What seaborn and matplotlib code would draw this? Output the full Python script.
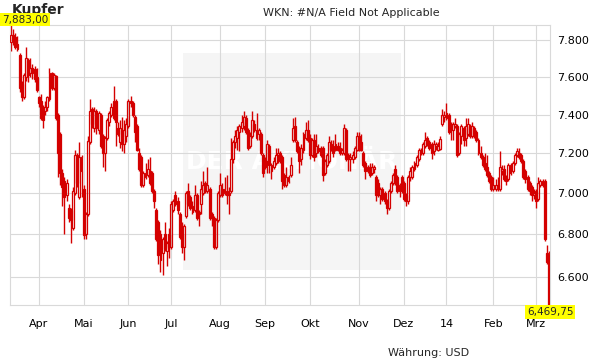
import numpy as np
import pandas as pd
import matplotlib
matplotlib.use("Agg")
import matplotlib.pyplot as plt
import seaborn as sns
from matplotlib.patches import Rectangle
from matplotlib.ticker import FixedLocator, FuncFormatter, NullLocator

# ---------------- data ----------------
title = "Kupfer"
subtitle = "WKN: #N/A Field Not Applicable"
currency = "Währung: USD"
month_counts = [13, 21, 21, 20, 23, 21, 21, 23, 21, 20, 22, 20, 7]   # trading days per month, Mar 2013 .. Mar 2014
month_labels = ["Apr", "Mai", "Jun", "Jul", "Aug", "Sep", "Okt", "Nov", "Dez", "14", "Feb", "Mrz"]
y_ticks = [6600, 6800, 7000, 7200, 7400, 7600, 7800]

opens = [
    7790, 7825, 7815, 7780, 7720, 7560, 7490, 7600, 7690, 7620, 7650, 7640, 7600,
    7490, 7470, 7440, 7420, 7440, 7480, 7620, 7540, 7605, 7400, 7300, 7100, 7060, 6990, 6930, 6920, 6830, 7000, 7190, 6980, 7180,
    7020, 6800, 6900, 7260, 7430, 7330, 7420, 7320, 7400, 7290, 7200, 7280, 7360, 7400, 7380, 7470, 7330, 7260, 7320, 7250, 7290,
    7340, 7470, 7460, 7390, 7340, 7200, 7180, 7040, 7080, 7090, 7110, 7100, 7010, 6920, 6860, 6800, 6710, 6800, 6720, 6800,
    6740, 6920, 6990, 6960, 6900, 6800, 6740, 6890, 7010, 6980, 6940, 6920, 6990, 6910, 6950, 7000, 7050, 7010, 7020, 6900, 6880, 6740, 6870,
    6990, 7020, 7000, 7010, 7000, 7010, 7170, 7260, 7280, 7310, 7330, 7340, 7380, 7320, 7240, 7290, 7350, 7320, 7300, 7300, 7190,
    7170, 7160, 7240, 7140, 7130, 7150, 7190, 7200, 7180, 7090, 7040, 7080, 7090, 7270, 7340, 7260, 7230, 7170, 7220, 7280, 7320,
    7280, 7190, 7270, 7200, 7230, 7230, 7230, 7100, 7140, 7160, 7250, 7240, 7220, 7240, 7230, 7200, 7200, 7320, 7190, 7170, 7170, 7180, 7220,
    7290, 7260, 7200, 7150, 7110, 7130, 7100, 7120, 7080, 7050, 6990, 7020, 7000, 6960, 6930, 7010, 7050, 7120, 7080, 7010, 7080,
    7050, 6990, 6960, 7080, 7080, 7120, 7140, 7170, 7220, 7200, 7240, 7280, 7260, 7250, 7210, 7240, 7220, 7225, 7350, 7390,
    7410, 7400, 7350, 7320, 7340, 7340, 7200, 7290, 7330, 7280, 7300, 7340, 7290, 7330, 7310, 7270, 7200, 7180, 7150, 7130, 7100, 7080,
    7020, 7020, 7040, 7020, 7110, 7120, 7080, 7070, 7140, 7110, 7150, 7190, 7200, 7190, 7160, 7110, 7080, 7050, 7030, 6990,
    7010, 6970, 7040, 7060, 7060, 6710, 6700,
]
highs = [
    7883, 7860, 7840, 7820, 7730, 7580, 7620, 7760, 7700, 7700, 7670, 7660, 7650,
    7500, 7510, 7450, 7470, 7500, 7650, 7625, 7620, 7610, 7410, 7310, 7120, 7080, 7070, 6950, 6930, 7030, 7220, 7200, 7260, 7190,
    7040, 6910, 7290, 7480, 7440, 7440, 7430, 7420, 7410, 7300, 7290, 7380, 7420, 7460, 7550, 7480, 7360, 7370, 7390, 7370, 7380,
    7480, 7500, 7470, 7400, 7350, 7230, 7190, 7110, 7150, 7170, 7180, 7110, 7020, 6930, 6870, 6820, 6790, 6860, 6770, 6830,
    6960, 6970, 7010, 6980, 6910, 6860, 6850, 7010, 7050, 6990, 6960, 7040, 7000, 6920, 7060, 7110, 7060, 7130, 7030, 6910, 6890, 6880, 7010,
    7100, 7050, 7080, 7090, 7030, 7280, 7270, 7320, 7340, 7350, 7400, 7420, 7400, 7330, 7310, 7420, 7370, 7410, 7330, 7310, 7200,
    7180, 7270, 7250, 7150, 7180, 7230, 7230, 7210, 7190, 7100, 7130, 7090, 7180, 7380, 7390, 7270, 7240, 7250, 7310, 7360, 7370,
    7300, 7280, 7300, 7300, 7250, 7240, 7240, 7170, 7200, 7290, 7270, 7270, 7300, 7260, 7260, 7230, 7350, 7330, 7200, 7200, 7210, 7240, 7310,
    7310, 7300, 7210, 7160, 7140, 7150, 7150, 7140, 7090, 7070, 7030, 7030, 7010, 6970, 7020, 7060, 7100, 7140, 7090, 7050, 7090,
    7060, 7000, 7090, 7130, 7140, 7160, 7190, 7230, 7230, 7260, 7310, 7290, 7270, 7260, 7270, 7260, 7260, 7290, 7430, 7420,
    7460, 7410, 7360, 7360, 7380, 7350, 7310, 7350, 7340, 7380, 7380, 7350, 7360, 7340, 7320, 7280, 7240, 7190, 7200, 7190, 7110, 7090,
    7080, 7070, 7080, 7210, 7140, 7140, 7090, 7150, 7150, 7160, 7200, 7230, 7230, 7200, 7170, 7120, 7090, 7060, 7040, 7020,
    7020, 7080, 7070, 7070, 7070, 6750, 6720,
]
lows = [
    7740, 7770, 7750, 7740, 7520, 7470, 7480, 7580, 7570, 7600, 7590, 7570, 7520,
    7440, 7370, 7330, 7400, 7420, 7470, 7530, 7530, 7370, 7080, 7040, 6940, 6800, 6960, 6860, 6760, 6820, 6990, 7030, 6970, 6980,
    6780, 6780, 6890, 7250, 7330, 7310, 7300, 7300, 7230, 7130, 7110, 7270, 7340, 7390, 7370, 7240, 7290, 7230, 7210, 7200, 7260,
    7330, 7440, 7390, 7260, 7210, 7110, 7030, 7030, 7070, 7080, 7040, 7000, 6930, 6770, 6660, 6620, 6610, 6720, 6650, 6690,
    6730, 6910, 6940, 6900, 6780, 6710, 6680, 6880, 6940, 6920, 6900, 6910, 6870, 6840, 6900, 6990, 7000, 7000, 6870, 6840, 6730, 6730, 6860,
    6980, 6980, 6990, 6950, 6900, 7000, 7150, 7230, 7220, 7210, 7310, 7320, 7300, 7220, 7230, 7280, 7310, 7270, 7270, 7190, 7080,
    7120, 7100, 7100, 7070, 7120, 7140, 7150, 7150, 7020, 7030, 7030, 7050, 7080, 7260, 7260, 7200, 7100, 7140, 7200, 7270, 7260,
    7170, 7180, 7160, 7180, 7200, 7180, 7060, 7090, 7130, 7150, 7210, 7180, 7210, 7210, 7190, 7190, 7190, 7160, 7110, 7110, 7150, 7170, 7210,
    7210, 7210, 7130, 7070, 7100, 7080, 7090, 7100, 6960, 6980, 6950, 6960, 6950, 6900, 6920, 7000, 7040, 7040, 7000, 6980, 7000,
    6960, 6940, 6950, 7060, 7070, 7110, 7130, 7160, 7190, 7190, 7230, 7240, 7220, 7170, 7190, 7220, 7210, 7215, 7340, 7360,
    7370, 7300, 7270, 7270, 7330, 7180, 7190, 7250, 7240, 7240, 7290, 7280, 7280, 7280, 7260, 7190, 7170, 7130, 7110, 7080, 7050, 7010,
    7010, 7010, 7010, 7010, 7090, 7060, 7040, 7060, 7090, 7100, 7140, 7180, 7170, 7150, 7070, 7050, 7010, 6990, 6960, 6970,
    6930, 6960, 7030, 7030, 6770, 6660, 6469.75,
]
closes = [
    7825, 7795, 7760, 7750, 7540, 7490, 7610, 7700, 7610, 7650, 7620, 7590, 7530,
    7460, 7380, 7370, 7440, 7490, 7620, 7540, 7610, 7380, 7200, 7100, 7030, 6980, 7050, 6880, 6870, 7010, 7190, 7050, 7180, 7110,
    6795, 6900, 7265, 7420, 7350, 7420, 7330, 7410, 7240, 7200, 7280, 7370, 7410, 7440, 7470, 7360, 7300, 7330, 7250, 7320, 7350,
    7470, 7460, 7400, 7310, 7220, 7120, 7040, 7100, 7100, 7120, 7050, 7010, 6960, 6780, 6700, 6680, 6780, 6730, 6760, 6740,
    6950, 6960, 6950, 6920, 6790, 6740, 6840, 7000, 6950, 6930, 6910, 6990, 6880, 6900, 7020, 7040, 7010, 7040, 6880, 6880, 6740, 6870, 7000,
    7040, 6990, 7020, 6990, 6990, 7170, 7260, 7290, 7320, 7340, 7360, 7390, 7310, 7230, 7290, 7370, 7320, 7280, 7320, 7200, 7100,
    7130, 7250, 7140, 7110, 7160, 7190, 7200, 7160, 7060, 7040, 7080, 7060, 7140, 7330, 7270, 7210, 7160, 7230, 7300, 7320, 7270,
    7190, 7270, 7180, 7240, 7210, 7190, 7090, 7160, 7190, 7260, 7220, 7200, 7250, 7220, 7200, 7220, 7330, 7170, 7170, 7180, 7190, 7230, 7290,
    7220, 7220, 7140, 7110, 7130, 7090, 7130, 7130, 6990, 6990, 7020, 6970, 6960, 6930, 7010, 7050, 7090, 7050, 7010, 7040, 7010,
    6970, 6960, 7080, 7110, 7130, 7150, 7180, 7220, 7200, 7250, 7270, 7250, 7230, 7200, 7250, 7250, 7240, 7275, 7400, 7400,
    7380, 7310, 7320, 7350, 7350, 7190, 7300, 7340, 7270, 7340, 7350, 7290, 7340, 7290, 7270, 7200, 7180, 7140, 7120, 7090, 7060, 7020,
    7040, 7040, 7020, 7130, 7120, 7070, 7060, 7140, 7100, 7150, 7190, 7210, 7180, 7160, 7080, 7070, 7020, 7010, 6990, 7000,
    6960, 7050, 7060, 7040, 6780, 6670, 6470,
]

# ---------------- figure ----------------
sns.set_theme(style="white")
plt.rcParams["font.family"] = ["DejaVu Sans"]

RED = "#d40000"
GRID = "#d9d9d9"
W, H = 611, 364

df = pd.DataFrame({"open": opens, "high": highs, "low": lows, "close": closes})
df["idx"] = np.arange(len(df))
df["top"] = df[["open", "close"]].max(axis=1)
df["bot"] = df[["open", "close"]].min(axis=1)
df["up"] = df["close"] >= df["open"]

fig = plt.figure(figsize=(W / 100, H / 100), dpi=100)
fig.patch.set_facecolor("white")
ax = fig.add_axes([10 / W, (H - 305) / H, 540 / W, 280 / H])
ax.patch.set_alpha(0)
ax.set_axisbelow(True)

# watermark box + logo text
ax.add_patch(Rectangle(((183 - 10) / 540, (305 - 270) / 280), (401 - 183) / 540, (270 - 53) / 280,
                       transform=ax.transAxes, facecolor="#f5f5f5", edgecolor="none", zorder=0.1))
ax.text((292 - 10) / 540, (305 - 162) / 280, "DER AKTIONÄR", transform=ax.transAxes,
        ha="center", va="center", color="white", fontsize=18, fontweight="bold", zorder=0.2)

# wicks (upper and lower parts, so hollow bodies stay empty)
ax.vlines(df["idx"], df["top"], df["high"], color=RED, linewidth=1.0, zorder=2)
ax.vlines(df["idx"], df["low"], df["bot"], color=RED, linewidth=1.0, zorder=2)

# bodies
up = df[df["up"]]
dn = df[~df["up"]]
ax.bar(up["idx"], up["top"] - up["bot"], bottom=up["bot"], width=0.9,
       facecolor="none", edgecolor=RED, linewidth=0.9, zorder=3)
ax.bar(dn["idx"], dn["top"] - dn["bot"], bottom=dn["bot"], width=0.9,
       facecolor=RED, edgecolor=RED, linewidth=0.9, zorder=3)

# axes
ymin, ymax = min(lows), max(highs)
ax.set_yscale("log")
ax.set_ylim(ymin, ymax)
ax.set_xlim(-0.5, len(df) - 0.5)
ax.yaxis.set_major_locator(FixedLocator(y_ticks))
ax.yaxis.set_minor_locator(NullLocator())
ax.yaxis.set_major_formatter(FuncFormatter(lambda v, p: f"{int(round(v)):,}".replace(",", ".")))
ax.yaxis.tick_right()
starts = np.cumsum(month_counts)[:-1]
ax.set_xticks(starts)
ax.set_xticklabels(month_labels)
ax.tick_params(axis="y", length=0, pad=5, labelsize=8, colors="black")
ax.tick_params(axis="x", length=0, pad=10, labelsize=8, colors="black")
ax.grid(True, color=GRID, linewidth=0.8)
for s in ax.spines.values():
    s.set_color(GRID)
    s.set_linewidth(0.8)
    s.set_visible(True)

# texts
def fx(x):
    return x / W

def fy(y):
    return 1 - y / H

fig.text(fx(12), fy(10), title, fontsize=10, fontweight="bold", ha="left", va="center", zorder=1)
fig.text(fx(263), fy(13), subtitle, fontsize=8, ha="left", va="center")
fig.text(fx(388), fy(353), currency, fontsize=8, ha="left", va="center")

fmt = lambda v: f"{v:,.2f}".replace(".", ",")
fig.text(fx(2), fy(19.5), fmt(ymax), fontsize=7.5, ha="left", va="center", zorder=5,
         bbox=dict(facecolor="#ffff00", edgecolor="none", pad=1.2))
fig.text(fx(527), fy(312), fmt(ymin), fontsize=7.5, ha="left", va="center", zorder=5,
         bbox=dict(facecolor="#ffff00", edgecolor="none", pad=1.2))

fig.savefig("out.png", dpi=100)
